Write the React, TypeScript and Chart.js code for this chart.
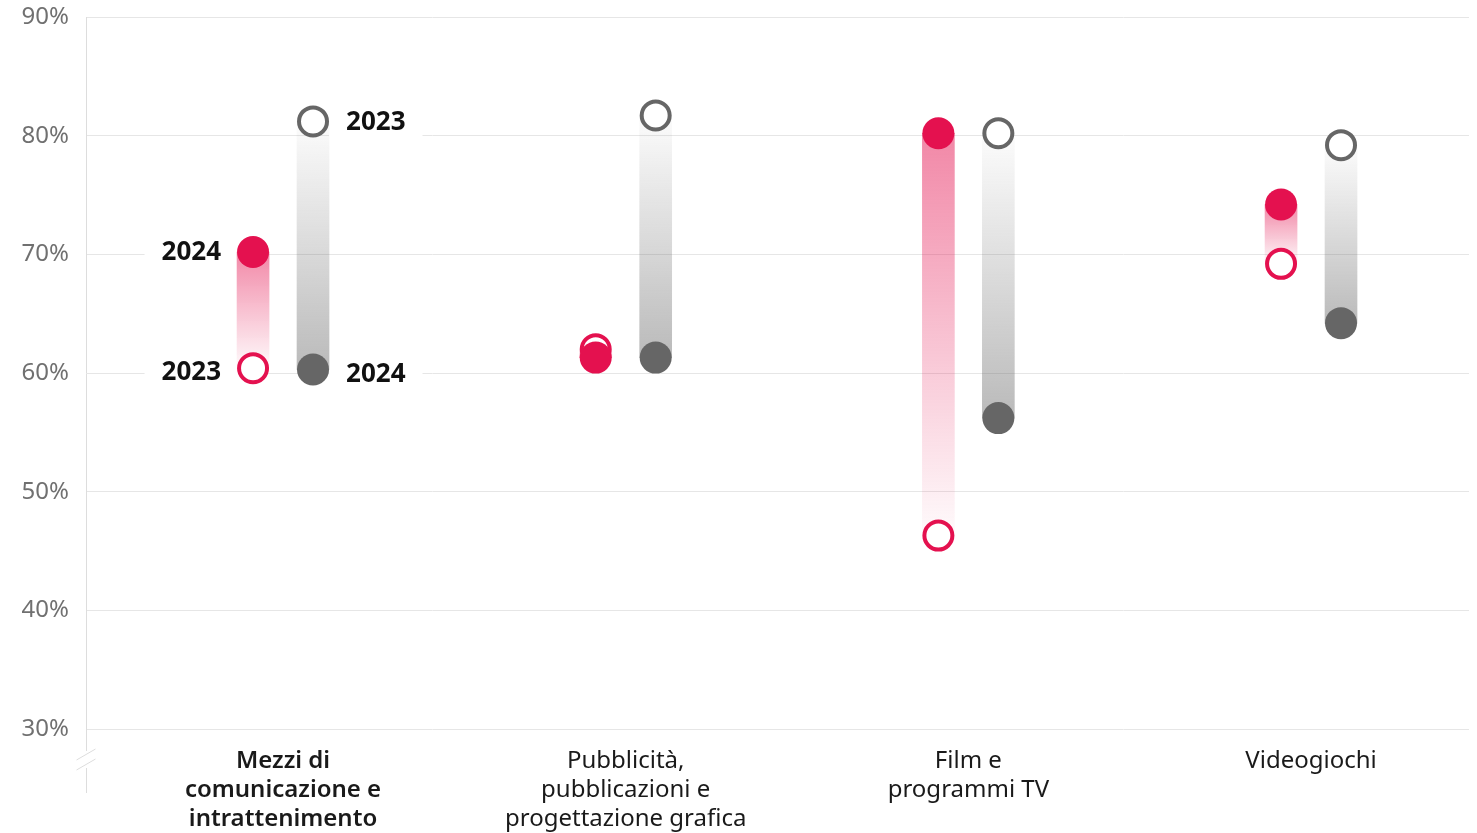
import React, { useEffect, useRef } from 'react';
import { Chart, registerables } from 'chart.js';

Chart.register(...registerables);

// ---- data ----
const categories: string[][] = [
  ['Mezzi di', 'comunicazione e', 'intrattenimento'],
  ['Pubblicità,', 'pubblicazioni e', 'progettazione grafica'],
  ['Film e', 'programmi TV'],
  ['Videogiochi'],
];
const yTickValues = [30, 40, 50, 60, 70, 80, 90];
const pink2023 = [60.4, 62.0, 46.3, 69.2];
const pink2024 = [70.2, 61.3, 80.2, 74.2];
const gray2023 = [81.2, 81.7, 80.2, 79.2];
const gray2024 = [60.3, 61.3, 56.2, 64.2];

// annotation labels on the first category
const annTexts = ['2024', '2023', '2023', '2024'];
const annDatasets = ['pinkFilled', 'pinkOpen', 'grayOpen', 'grayFilled'];
const annSides = ['left', 'left', 'right', 'right'];

// ---- style ----
const FONT = '"Noto Sans", "Open Sans", sans-serif';
const PINK_RGB = [228, 17, 79];
const GRAY_RGB = [102, 102, 102];
const PINK = `rgb(${PINK_RGB.join(',')})`;
const GRAY = `rgb(${GRAY_RGB.join(',')})`;
const OFFSET = 0.0875;

const rgba = (c: number[], a: number) => `rgba(${c[0]},${c[1]},${c[2]},${a})`;

const gradientFor = (c: number[], a23: number, a24: number) => (ctx: any) => {
  const chart = ctx.chart;
  if (!chart.chartArea || ctx.type !== 'data' || !ctx.raw) return rgba(c, a24);
  const ys = chart.scales.y;
  const p23 = ys.getPixelForValue(ctx.raw.y[0]);
  const p24 = ys.getPixelForValue(ctx.raw.y[1]);
  if (Math.abs(p23 - p24) < 1) return rgba(c, a24);
  const g = chart.ctx.createLinearGradient(0, p23, 0, p24);
  g.addColorStop(0, rgba(c, a23));
  g.addColorStop(1, rgba(c, a24));
  return g;
};

const ANN_FONT = `bold 26px ${FONT}`;

const annotationPlugin = {
  id: 'annotationLabels',
  _items(chart: any) {
    const items: any[] = [];
    const c = chart.ctx;
    c.save();
    c.font = ANN_FONT;
    annTexts.forEach((t, i) => {
      const dsIndex = chart.data.datasets.findIndex((d: any) => d.id === annDatasets[i]);
      const el = chart.getDatasetMeta(dsIndex).data[0];
      if (!el) return;
      const w = c.measureText(t).width;
      const left = annSides[i] === 'left' ? el.x - 32 - w : el.x + 33;
      const y = el.y + (i === 3 ? 5 : i === 1 ? 4 : 1);
      items.push({ t, left, w, y });
    });
    c.restore();
    return items;
  },
  beforeDatasetsDraw(chart: any) {
    const c = chart.ctx;
    c.save();
    c.fillStyle = '#ffffff';
    (this as any)._items(chart).forEach((it: any) => {
      c.fillRect(it.left - 17, it.y - 16, it.w + 34, 32);
    });
    c.restore();
  },
  afterDatasetsDraw(chart: any) {
    const c = chart.ctx;
    c.save();
    c.font = ANN_FONT;
    c.fillStyle = '#111111';
    c.textBaseline = 'middle';
    c.textAlign = 'left';
    (this as any)._items(chart).forEach((it: any) => {
      c.fillText(it.t, it.left, it.y);
    });
    c.restore();
  },
  afterDraw(chart: any) {
    const c = chart.ctx;
    const x = Math.round(chart.chartArea.left) + 0.5;
    const y0 = chart.chartArea.bottom;
    c.save();
    c.strokeStyle = '#dddddd';
    c.lineWidth = 1;
    c.beginPath();
    c.moveTo(x, y0);
    c.lineTo(x, y0 + 22);
    c.moveTo(x, y0 + 39);
    c.lineTo(x, y0 + 64);
    c.moveTo(x - 10, y0 + 31);
    c.lineTo(x + 9, y0 + 20);
    c.moveTo(x - 10, y0 + 41);
    c.lineTo(x + 9, y0 + 30);
    c.stroke();
    c.restore();
  },
};

export default function App() {
  const ref = useRef<HTMLCanvasElement | null>(null);

  useEffect(() => {
    if (!ref.current) return;
    const xs = (sign: number) => categories.map((_, i) => i + sign * OFFSET);

    const chart = new Chart(ref.current, {
      type: 'scatter',
      data: {
        datasets: [
          {
            id: 'pinkBar',
            type: 'bar',
            data: xs(-1).map((x, i) => ({ x, y: [pink2023[i], pink2024[i]] })),
            backgroundColor: gradientFor(PINK_RGB, 0.02, 0.5),
            borderWidth: 0,
            barThickness: 32,
            grouped: false,
            order: 10,
          },
          {
            id: 'grayBar',
            type: 'bar',
            data: xs(1).map((x, i) => ({ x, y: [gray2023[i], gray2024[i]] })),
            backgroundColor: gradientFor(GRAY_RGB, 0.02, 0.45),
            borderWidth: 0,
            barThickness: 32,
            grouped: false,
            order: 10,
          },
          {
            id: 'pinkOpen',
            data: xs(-1).map((x, i) => ({ x, y: pink2023[i] })),
            pointRadius: 14,
            pointBorderWidth: 4,
            pointBackgroundColor: '#ffffff',
            pointBorderColor: PINK,
            order: 5,
          },
          {
            id: 'grayOpen',
            data: xs(1).map((x, i) => ({ x, y: gray2023[i] })),
            pointRadius: 14,
            pointBorderWidth: 4,
            pointBackgroundColor: '#ffffff',
            pointBorderColor: GRAY,
            order: 5,
          },
          {
            id: 'pinkFilled',
            data: xs(-1).map((x, i) => ({ x, y: pink2024[i] })),
            pointRadius: 16,
            pointBorderWidth: 0,
            pointBackgroundColor: PINK,
            pointBorderColor: PINK,
            order: 1,
          },
          {
            id: 'grayFilled',
            data: xs(1).map((x, i) => ({ x, y: gray2024[i] })),
            pointRadius: 16,
            pointBorderWidth: 0,
            pointBackgroundColor: GRAY,
            pointBorderColor: GRAY,
            order: 1,
          },
        ] as any,
      },
      options: {
        animation: false,
        responsive: true,
        maintainAspectRatio: false,
        events: [],
        layout: { autoPadding: false, padding: { top: 17, right: 8, left: 0, bottom: 0 } },
        plugins: { legend: { display: false }, tooltip: { enabled: false } },
        scales: {
          x: {
            type: 'linear',
            min: -0.575,
            max: 3.461,
            offset: false,
            grid: { display: false, offset: false, drawTicks: false },
            border: { display: false },
            afterBuildTicks: (scale: any) => {
              scale.ticks = categories.map((_, i) => ({ value: i }));
            },
            afterFit: (scale: any) => {
              scale.height = 104;
              scale.paddingLeft = 0;
              scale.paddingRight = 0;
            },
            ticks: {
              autoSkip: false,
              maxRotation: 0,
              minRotation: 0,
              padding: 18,
              color: '#1a1a1a',
              font: (ctx: any) => ({
                family: FONT,
                size: 24,
                weight: ctx.index === 0 ? '600' : 'normal',
                lineHeight: 1.2,
              }),
              callback: (v: any) => categories[Math.round(Number(v))] ?? '',
            },
          },
          y: {
            type: 'linear',
            min: yTickValues[0],
            max: yTickValues[yTickValues.length - 1],
            afterBuildTicks: (scale: any) => {
              scale.ticks = yTickValues.map((value) => ({ value }));
            },
            afterFit: (scale: any) => {
              scale.width = 86;
              scale.paddingTop = 0;
              scale.paddingBottom = 0;
            },
            grid: { color: '#e6e6e6', lineWidth: 1, drawTicks: false },
            border: { display: true, color: '#dddddd', width: 1 },
            ticks: {
              padding: 17,
              color: '#707070',
              font: { family: FONT, size: 24 },
              callback: (v: any) => `${v}%`,
            },
          },
        },
      } as any,
      plugins: [annotationPlugin as any],
    });
    return () => chart.destroy();
  }, []);

  return (
    <div style={{ position: 'fixed', left: 0, top: 0, width: 1477, height: 833, background: '#fff' }}>
      <canvas ref={ref} />
    </div>
  );
}
